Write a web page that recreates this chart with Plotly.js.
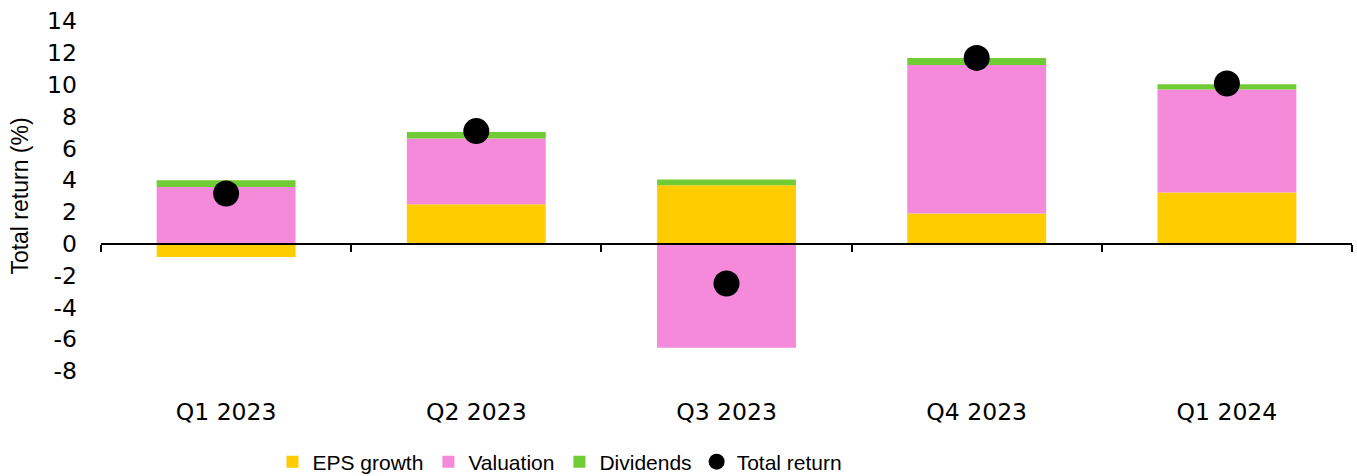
<!DOCTYPE html>
<html>
<head>
<meta charset="utf-8">
<script src="https://cdn.plot.ly/plotly-3.0.1.min.js"></script>
<style>
html,body{margin:0;padding:0;background:#fff;}
#chart{width:1357px;height:476px;}
</style>
</head>
<body>
<div id="chart"></div>
<script>
const quarters = ["Q1 2023", "Q2 2023", "Q3 2023", "Q4 2023", "Q1 2024"];
const epsGrowth = [-0.84, 2.48, 3.68, 1.90, 3.22];
const valuation = [3.57, 4.13, -6.54, 9.33, 6.48];
const dividends = [0.42, 0.42, 0.36, 0.44, 0.33];
const totalReturn = [3.16, 7.08, -2.50, 11.68, 10.07];
const yTicks = [-8, -6, -4, -2, 0, 2, 4, 6, 8, 10, 12, 14];

const yMin = -8, yMax = 14;
const tickFont = {family: "DejaVu Sans", size: 23.5, color: "#000"};

const traces = [
  {type: "bar", name: "EPS growth", x: quarters, y: epsGrowth,
   marker: {color: "#FFCC00"}, hoverinfo: "skip"},
  {type: "bar", name: "Valuation", x: quarters, y: valuation,
   marker: {color: "#F58ADA"}, hoverinfo: "skip"},
  {type: "bar", name: "Dividends", x: quarters, y: dividends,
   marker: {color: "#70CB35"}, hoverinfo: "skip"},
  {type: "scatter", mode: "markers", name: "Total return", x: quarters, y: totalReturn,
   xaxis: "x2", marker: {color: "#000", size: 26}, hoverinfo: "skip"}
];

const layout = {
  width: 1357, height: 476,
  margin: {l: 101, r: 5, t: 21, b: 105, autoexpand: false},
  paper_bgcolor: "#fff", plot_bgcolor: "#fff",
  barmode: "relative",
  bargap: 0.445,
  showlegend: true,
  legend: {orientation: "h", xref: "container", x: 560 / 1357, xanchor: "center",
           yref: "container", y: 14 / 476, yanchor: "middle",
           font: {family: "Liberation Sans", size: 21, color: "#000"},
           itemwidth: 30, tracegroupgap: 0, traceorder: "normal"},
  xaxis: {type: "category", categoryorder: "array", categoryarray: quarters,
          range: [-0.5, 4.5], showline: false, showgrid: false, zeroline: false,
          ticks: "", tickfont: tickFont, ticklabelstandoff: 24, fixedrange: true},
  xaxis2: {type: "category", categoryorder: "array", categoryarray: quarters,
           overlaying: "x", anchor: "free", position: (0 - yMin) / (yMax - yMin),
           range: [-0.5, 4.5], showline: true, linecolor: "#000", linewidth: 2,
           ticks: "outside", tickson: "boundaries", ticklen: 7, tickwidth: 2, tickcolor: "#000",
           showticklabels: false, showgrid: false, zeroline: false, fixedrange: true},
  yaxis: {range: [yMin, yMax], tickvals: yTicks, ticktext: yTicks.map(String),
          showline: false, showgrid: false, zeroline: false, ticks: "",
          tickfont: tickFont, ticklabelstandoff: 23, fixedrange: true,
          title: {text: "Total return (%)", font: {family: "Liberation Sans", size: 23, color: "#000"}, standoff: 12}}
};

Plotly.newPlot("chart", traces, layout, {displayModeBar: false, staticPlot: true});
</script>
</body>
</html>
